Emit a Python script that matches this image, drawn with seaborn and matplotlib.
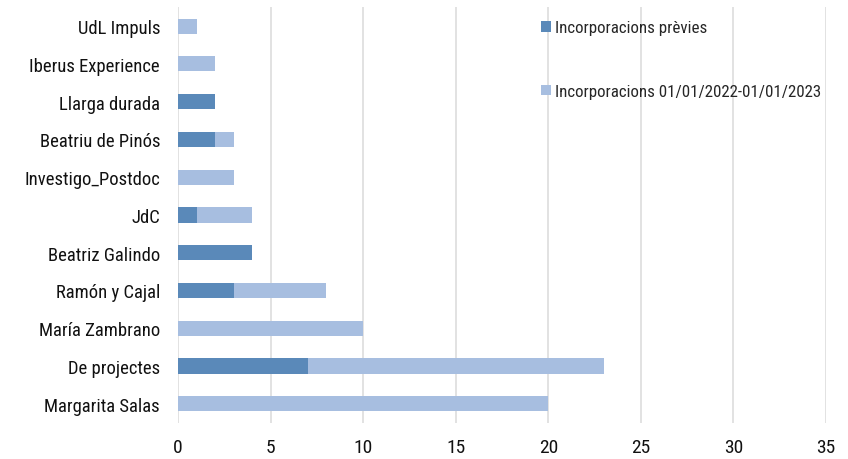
import matplotlib
matplotlib.use("Agg")
import matplotlib.pyplot as plt
import seaborn as sns
import pandas as pd
from matplotlib.patches import Patch

categories = ["UdL Impuls", "Iberus Experience", "Llarga durada", "Beatriu de Pinós",
              "Investigo_Postdoc", "JdC", "Beatriz Galindo", "Ramón y Cajal",
              "María Zambrano", "De projectes", "Margarita Salas"]
previes = [0, 0, 2, 2, 0, 1, 4, 3, 0, 7, 0]
noves = [1, 2, 0, 1, 3, 3, 0, 5, 10, 16, 20]
xticks = [0, 5, 10, 15, 20, 25, 30, 35]
label_prev = "Incorporacions prèvies"
label_new = "Incorporacions 01/01/2022-01/01/2023"

dark = "#5A89B9"
light = "#A7BEE0"

df = pd.DataFrame({"cat": categories, "prev": previes, "new": noves})
df["total"] = df["prev"] + df["new"]

sns.set_theme(style="white")
plt.rcParams["font.family"] = ["Roboto Condensed", "Liberation Sans Narrow", "Roboto", "DejaVu Sans"]

fig = plt.figure(figsize=(8.48, 4.6), dpi=100)
ax = fig.add_axes([0.21, 0.079, 0.764, 0.903])

sns.barplot(data=df, y="cat", x="total", color=light, orient="h", width=0.4,
            ax=ax, saturation=1, edgecolor="none", order=categories)
sns.barplot(data=df, y="cat", x="prev", color=dark, orient="h", width=0.4,
            ax=ax, saturation=1, edgecolor="none", order=categories)

ax.set_xlim(0, 35)
ax.set_ylim(10.5, -0.5)
ax.set_xticks(xticks)
ax.set_xticklabels([str(t) for t in xticks], fontsize=14, color="#111111")
ax.tick_params(axis="y", labelsize=13.4, labelcolor="#111111", length=0, pad=13)
ax.tick_params(axis="x", length=0, pad=11)
ax.set_xlabel("")
ax.set_ylabel("")
ax.grid(axis="x", color="#dddddd", linewidth=1.2)
ax.set_axisbelow(True)
for s in ax.spines.values():
    s.set_visible(False)

handles = [Patch(facecolor=dark, edgecolor="none"), Patch(facecolor=light, edgecolor="none")]
ax.legend(handles, [label_prev, label_new], loc="upper left", bbox_to_anchor=(0.537, 1.005),
          frameon=False, fontsize=12.2, labelspacing=2.85, handlelength=0.55,
          handleheight=0.55, handletextpad=0.25)

fig.savefig("out.png", dpi=100)
